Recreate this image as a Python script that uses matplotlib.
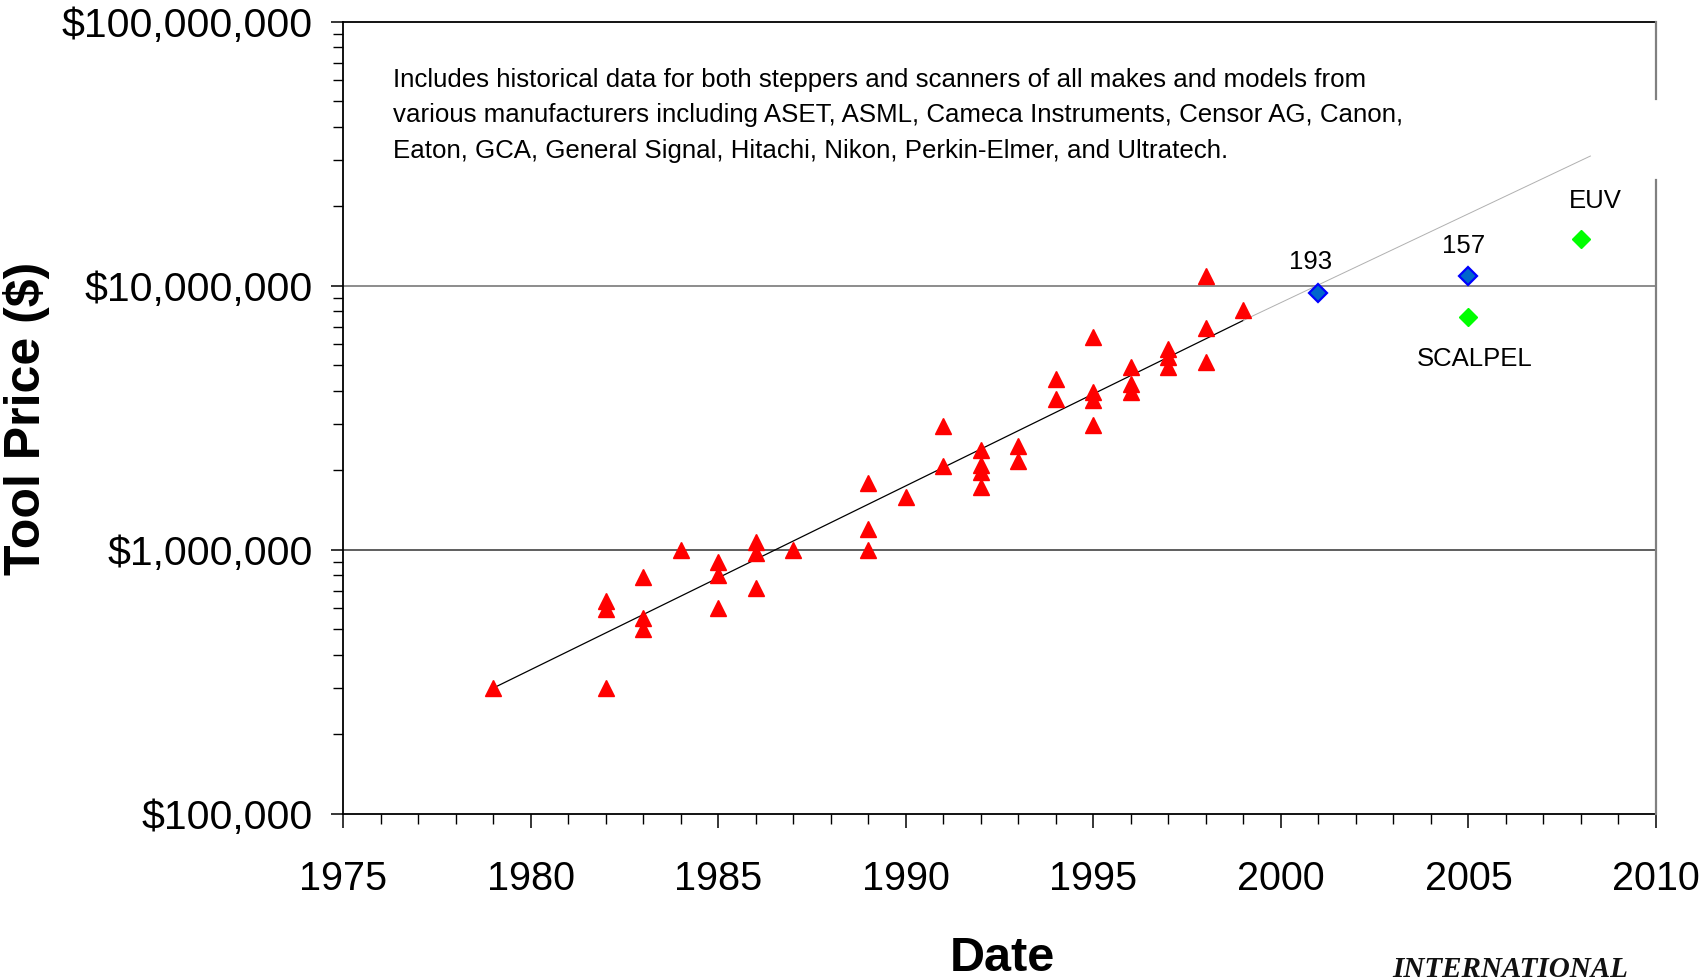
import numpy as np
import matplotlib
matplotlib.use("Agg")
import matplotlib.pyplot as plt
from matplotlib import font_manager
from matplotlib.ticker import FixedLocator, FuncFormatter

# ---- dados ----
# precos historicos (triangulos vermelhos)
anos = [1979, 1982, 1982, 1982, 1983, 1983, 1983, 1984,
        1985, 1985, 1985, 1986, 1986, 1986, 1987,
        1989, 1989, 1989, 1990, 1991, 1991,
        1992, 1992, 1992, 1992, 1993, 1993, 1994, 1994,
        1995, 1995, 1995, 1995, 1996, 1996, 1996,
        1997, 1997, 1997, 1998, 1998, 1998, 1999]
precos = [3.0e5, 3.0e5, 6.4e5, 5.95e5, 7.9e5, 5.5e5, 5.0e5, 1.0e6,
          9.0e5, 8.0e5, 6.0e5, 1.07e6, 9.7e5, 7.2e5, 1.0e6,
          1.79e6, 1.2e6, 1.0e6, 1.59e6, 2.95e6, 2.08e6,
          2.39e6, 2.09e6, 1.98e6, 1.73e6, 2.47e6, 2.17e6, 4.44e6, 3.72e6,
          6.41e6, 3.95e6, 3.69e6, 2.97e6, 4.94e6, 4.25e6, 3.97e6,
          5.74e6, 5.39e6, 4.94e6, 1.09e7, 6.9e6, 5.16e6, 8.1e6]

# linha de tendencia (preta ate 1999, cinza depois)
tend_anos = [1979, 1999]
tend_precos = [3.0e5, 7.4e6]
ext_anos = [1999, 2008.25]
ext_precos = [7.4e6, 3.1e7]

# novas tecnologias
azul_anos = [2001, 2005]
azul_precos = [9.42e6, 1.09e7]
verde_anos = [2005, 2008]
verde_precos = [7.64e6, 1.5e7]

# rotulos (em coordenadas de dados)
rot_anos = [2000.8, 2004.88, 2005.17, 2008.38]
rot_precos = [1.23e7, 1.41e7, 5.3e6, 2.09e7]
rot_nomes = ["193", "157", "SCALPEL", "EUV"]

nota = ("Includes historical data for both steppers and scanners of all makes and models from\n"
        "various manufacturers including ASET, ASML, Cameca Instruments, Censor AG, Canon,\n"
        "Eaton, GCA, General Signal, Hitachi, Nikon, Perkin-Elmer, and Ultratech.")


def tem_fonte(nome, peso="normal"):
    try:
        font_manager.findfont(font_manager.FontProperties(family=nome, weight=peso),
                              fallback_to_default=False)
        return True
    except Exception:
        return False


narrow = tem_fonte("Liberation Sans Narrow")
plt.rcParams["font.family"] = ["Liberation Sans", "DejaVu Sans"]

fig = plt.figure(figsize=(17.04, 9.8), dpi=100)
W, H = 1704, 980
x0, x1, y0, y1 = 343.4, 1656, 21.7, 814
ax = fig.add_axes([x0 / W, 1 - y1 / H, (x1 - x0) / W, (y1 - y0) / H])

ax.set_yscale("log")
ax.set_xlim(1975, 2010)
ax.set_ylim(1e5, 1e8)

# grade horizontal
ax.axhline(1e7, color="#6e6e6e", lw=1.1, zorder=1)
ax.axhline(1e6, color="#333333", lw=1.1, zorder=1)

# tendencia
ax.plot(tend_anos, tend_precos, color="black", lw=0.9, zorder=2)
ax.plot(ext_anos, ext_precos, color="#b0b0b0", lw=0.7, zorder=2)

# pontos
ax.plot(anos, precos, linestyle="none", marker="^", ms=11.5,
        color="#ff0000", mec="#ff0000", zorder=3)
ax.plot(azul_anos, azul_precos, linestyle="none", marker="D", ms=9.5,
        mfc="#0066cc", mec="#0000ff", mew=1.6, zorder=4)
ax.plot(verde_anos, verde_precos, linestyle="none", marker="D", ms=9,
        mfc="#00ff00", mec="#00ff00", zorder=4)

for xa, ya, nome in zip(rot_anos, rot_precos, rot_nomes):
    ax.text(xa, ya, nome, fontsize=18.5, ha="center", va="center", color="black")

fig.text(393.4 / W, 1 - 68 / H, nota, fontsize=18.6, ha="left", va="top",
         linespacing=1.6, color="black")

# eixos / bordas
for lado in ["left", "bottom", "top"]:
    ax.spines[lado].set_color("black")
    ax.spines[lado].set_linewidth(1.3)
ax.spines["right"].set_visible(False)
# borda direita cinza com interrupcao
ax.plot([2010, 2010], [1e8, 10 ** 7.708], color="#808080", lw=1.6, clip_on=False, zorder=5)
ax.plot([2010, 2010], [10 ** 7.399, 1e5], color="#808080", lw=1.6, clip_on=False, zorder=5)

# ticks y
ax.yaxis.set_major_locator(FixedLocator([1e5, 1e6, 1e7, 1e8]))
ax.yaxis.set_minor_locator(FixedLocator([m * 10 ** e for e in range(5, 8) for m in range(2, 10)]))
ax.yaxis.set_major_formatter(FuncFormatter(lambda v, p: "${:,.0f}".format(v)))
ax.yaxis.set_minor_formatter(FuncFormatter(lambda v, p: ""))
ax.tick_params(axis="y", which="major", direction="out", length=9, width=1.1,
               pad=13, labelsize=29.5)
ax.tick_params(axis="y", which="minor", direction="out", length=7, width=1.0)

# ticks x
ax.xaxis.set_major_locator(FixedLocator(np.arange(1975, 2011, 5)))
ax.xaxis.set_minor_locator(FixedLocator(np.arange(1975, 2011, 1)))
ax.tick_params(axis="x", which="major", direction="out", length=10, width=1.1, pad=23)
ax.tick_params(axis="x", which="minor", direction="out", length=7, width=1.0)
for lab in ax.get_xticklabels():
    if narrow:
        lab.set_family("Liberation Sans Narrow")
        lab.set_fontsize(34)
    else:
        lab.set_fontsize(28.5)

# rotulos dos eixos
fig.text(27 / W, 1 - 418 / H, "Tool Price ($)", rotation=90, ha="center", va="center",
         fontsize=36, fontweight="bold")
if narrow:
    fig.text(1002 / W, 1 - 958 / H, "Date", ha="center", va="center",
             fontsize=39, fontweight="bold", family="Liberation Sans Narrow")
else:
    fig.text(1002 / W, 1 - 958 / H, "Date", ha="center", va="center",
             fontsize=35, fontweight="bold")

fig.text(1510 / W, 1 - 977 / H, "INTERNATIONAL", ha="center", va="baseline",
         fontsize=21, fontweight="bold", style="italic",
         family=["Liberation Serif", "DejaVu Serif"], color="#111111")

fig.savefig("out.png", dpi=100, facecolor="white")
